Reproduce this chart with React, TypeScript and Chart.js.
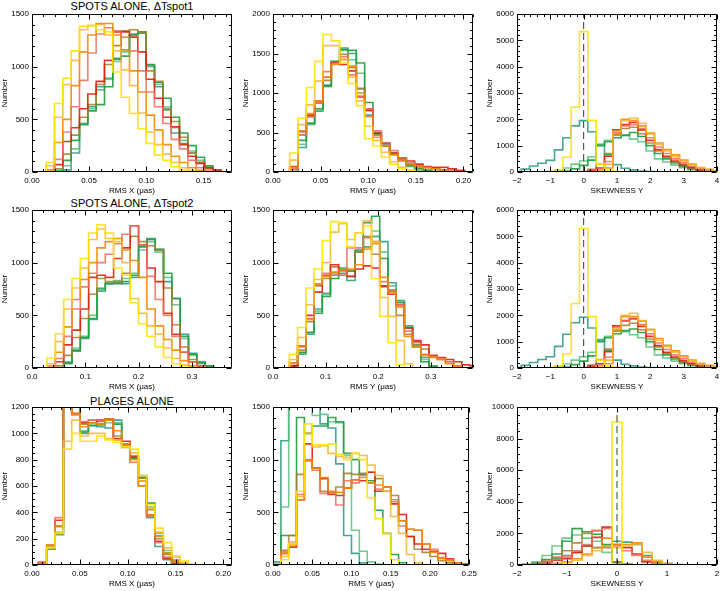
import React, { useEffect, useRef } from "react";
import { Chart, registerables } from "chart.js";
Chart.register(...registerables);

const FONT = '"Liberation Sans", Arial, Helvetica, sans-serif';

// series order: yellow, gold, orange, salmon, red, brown, green, light green, teal
const seriesColors = [
  "rgba(255,226,0,0.9)",
  "rgba(246,180,46,0.85)",
  "rgba(240,136,0,0.9)",
  "rgba(234,108,92,0.85)",
  "rgba(222,32,12,0.9)",
  "rgba(166,124,40,0.85)",
  "rgba(30,156,62,0.9)",
  "rgba(92,190,126,0.85)",
  "rgba(40,152,128,0.85)",
];

// ---- SPOTS ALONE, dTspot1 : RMS X (24 bins) ----
const spot1RmsX: number[][] = [
  [0, 0, 90, 650, 890, 1150, 1385, 1390, 1350, 1330, 950, 710, 555, 410, 270, 160, 110, 50, 20, 0, 0, 0, 0, 0],
  [0, 0, 60, 520, 830, 1060, 1350, 1390, 1400, 1300, 1150, 970, 820, 560, 380, 260, 170, 90, 40, 15, 0, 0, 0, 0],
  [0, 0, 20, 280, 500, 820, 1140, 1300, 1410, 1410, 1300, 1160, 960, 760, 540, 400, 260, 150, 90, 40, 15, 0, 0, 0],
  [0, 0, 0, 120, 380, 620, 870, 1130, 1310, 1370, 1340, 1280, 1150, 960, 760, 620, 460, 310, 220, 110, 40, 10, 0, 0],
  [0, 0, 0, 70, 290, 420, 600, 740, 860, 1060, 1330, 1330, 1280, 1140, 880, 700, 520, 430, 260, 150, 80, 40, 10, 0],
  [0, 0, 0, 30, 170, 350, 520, 640, 830, 1020, 1200, 1340, 1350, 1330, 960, 860, 600, 480, 330, 180, 90, 30, 10, 0],
  [0, 0, 0, 10, 110, 300, 450, 580, 640, 810, 1070, 1100, 1300, 1320, 1020, 850, 700, 520, 370, 250, 140, 60, 20, 0],
  [0, 0, 0, 5, 60, 220, 460, 600, 780, 880, 1050, 1140, 1300, 1320, 1000, 830, 620, 420, 300, 200, 110, 50, 15, 0],
  [0, 0, 0, 0, 20, 180, 460, 620, 810, 890, 1080, 1160, 1310, 1330, 1010, 810, 590, 370, 270, 180, 90, 40, 10, 0],
];

// ---- SPOTS ALONE, dTspot1 : RMS Y (24 bins) ----
const spot1RmsY: number[][] = [
  [0, 0, 240, 680, 1070, 1400, 1740, 1660, 1380, 1120, 840, 420, 330, 190, 100, 40, 20, 0, 0, 0, 0, 0, 0, 0],
  [0, 0, 150, 600, 850, 1150, 1600, 1600, 1430, 1200, 900, 580, 400, 250, 130, 60, 20, 10, 0, 0, 0, 0, 0, 0],
  [0, 0, 60, 520, 740, 900, 1200, 1360, 1420, 1340, 1000, 700, 440, 330, 220, 150, 100, 70, 50, 40, 20, 0, 0, 0],
  [0, 0, 40, 470, 700, 880, 1270, 1380, 1460, 1230, 960, 800, 520, 370, 270, 180, 110, 80, 60, 40, 20, 10, 0, 0],
  [0, 0, 70, 510, 720, 900, 1200, 1390, 1360, 1280, 950, 780, 490, 360, 240, 180, 140, 100, 70, 60, 60, 40, 20, 0],
  [0, 0, 30, 470, 700, 870, 1160, 1380, 1490, 1320, 1060, 780, 470, 330, 220, 160, 110, 80, 60, 50, 30, 10, 0, 0],
  [0, 0, 0, 400, 620, 800, 1090, 1390, 1550, 1540, 1380, 880, 500, 370, 240, 170, 90, 50, 20, 10, 0, 0, 0, 0],
  [0, 0, 0, 350, 600, 780, 1080, 1400, 1540, 1420, 1250, 800, 470, 350, 230, 150, 80, 40, 20, 0, 0, 0, 0, 0],
  [0, 0, 0, 310, 610, 770, 1100, 1400, 1570, 1500, 1050, 720, 490, 330, 230, 140, 70, 30, 10, 0, 0, 0, 0, 0],
];

// ---- SPOTS ALONE, dTspot1 : SKEWNESS Y (25 bins, centres -2..4) ----
const spot1Skew: number[][] = [
  [0, 0, 0, 0, 0, 80, 560, 2460, 5330, 1960, 300, 60, 20, 0, 0, 0, 0, 0, 0, 0, 0, 0, 0, 0, 0],
  [0, 0, 0, 0, 0, 0, 0, 0, 0, 10, 60, 300, 1550, 1950, 2050, 1850, 1500, 1050, 800, 580, 420, 280, 160, 90, 40],
  [0, 0, 0, 0, 0, 0, 0, 0, 0, 0, 20, 150, 1400, 2000, 1950, 1750, 1450, 1100, 850, 650, 450, 300, 170, 100, 50],
  [0, 0, 0, 0, 0, 0, 0, 0, 0, 20, 100, 400, 1500, 1750, 1800, 1650, 1300, 950, 700, 500, 350, 220, 120, 60, 30],
  [0, 0, 0, 0, 0, 0, 0, 0, 10, 50, 150, 600, 1600, 1800, 1880, 1600, 1200, 850, 600, 420, 280, 170, 90, 40, 20],
  [0, 0, 0, 0, 0, 0, 0, 0, 20, 100, 300, 700, 1400, 1650, 1700, 1450, 1100, 800, 560, 380, 240, 140, 80, 40, 20],
  [0, 0, 0, 0, 0, 10, 40, 120, 250, 450, 1000, 1150, 1300, 1400, 1500, 1350, 1000, 700, 500, 340, 210, 120, 70, 40, 20],
  [0, 0, 0, 0, 20, 60, 150, 300, 420, 580, 1030, 1200, 1450, 1380, 1250, 1150, 800, 500, 380, 260, 160, 90, 50, 20, 10],
  [20, 110, 230, 330, 440, 840, 1300, 1750, 1950, 1530, 1050, 660, 280, 140, 80, 40, 20, 10, 0, 0, 0, 0, 0, 0, 0],
];

// ---- SPOTS ALONE, dTspot2 : RMS X (24 bins) ----
const spot2RmsX: number[][] = [
  [0, 0, 95, 325, 650, 850, 1040, 1280, 1360, 1280, 950, 880, 620, 420, 300, 200, 100, 40, 10, 0, 0, 0, 0, 0],
  [0, 0, 40, 250, 560, 760, 950, 1220, 1320, 1230, 1200, 1000, 660, 520, 400, 320, 190, 90, 30, 10, 0, 0, 0, 0],
  [0, 0, 20, 150, 390, 650, 840, 1000, 1140, 1200, 1230, 1120, 1020, 860, 560, 400, 270, 170, 70, 20, 0, 0, 0, 0],
  [0, 0, 0, 90, 300, 560, 770, 900, 1000, 1080, 1180, 1270, 1350, 1170, 870, 650, 500, 300, 150, 60, 20, 0, 0, 0],
  [0, 0, 0, 60, 220, 360, 560, 860, 880, 860, 1040, 1140, 1350, 1170, 950, 820, 520, 320, 150, 60, 20, 0, 0, 0],
  [0, 0, 0, 20, 120, 290, 470, 700, 850, 820, 820, 900, 1250, 1200, 1160, 1120, 760, 410, 200, 80, 20, 0, 0, 0],
  [0, 0, 0, 0, 50, 170, 290, 470, 750, 800, 800, 820, 880, 1150, 1220, 1120, 900, 660, 300, 130, 50, 20, 0, 0],
  [0, 0, 0, 0, 60, 190, 300, 500, 760, 810, 830, 850, 900, 1120, 1200, 1100, 860, 600, 280, 120, 40, 10, 0, 0],
  [0, 0, 0, 0, 40, 160, 280, 460, 730, 800, 810, 800, 860, 1170, 1230, 1130, 820, 660, 320, 140, 60, 20, 0, 0],
];

// ---- SPOTS ALONE, dTspot2 : RMS Y (25 bins) ----
const spot2RmsY: number[][] = [
  [0, 0, 130, 385, 760, 940, 1210, 1390, 1380, 1150, 1280, 1350, 850, 490, 240, 30, 0, 0, 0, 0, 0, 0, 0, 0, 0],
  [0, 0, 80, 290, 600, 840, 1000, 1290, 1370, 1220, 1280, 1400, 1200, 670, 490, 260, 40, 0, 0, 0, 0, 0, 0, 0, 0],
  [0, 0, 50, 200, 460, 800, 870, 910, 930, 940, 980, 1130, 1180, 860, 720, 580, 300, 200, 120, 100, 80, 40, 20, 0, 0],
  [0, 0, 40, 210, 470, 790, 900, 880, 880, 1140, 1140, 1240, 1200, 820, 730, 600, 350, 240, 130, 110, 90, 60, 20, 0, 0],
  [0, 0, 20, 210, 500, 720, 880, 980, 930, 870, 940, 970, 950, 780, 700, 600, 380, 260, 220, 120, 100, 80, 60, 30, 20],
  [0, 0, 10, 170, 440, 780, 850, 960, 880, 930, 1100, 1240, 1080, 770, 720, 500, 320, 220, 180, 110, 80, 60, 20, 0, 0],
  [0, 0, 0, 150, 340, 520, 680, 850, 950, 920, 1120, 1380, 1440, 1040, 740, 620, 380, 200, 60, 10, 0, 0, 0, 0, 0],
  [0, 0, 0, 140, 330, 540, 700, 900, 920, 870, 1110, 1250, 1300, 1100, 780, 630, 390, 220, 80, 15, 0, 0, 0, 0, 0],
  [0, 0, 0, 130, 320, 560, 710, 880, 900, 830, 1100, 1150, 1250, 1200, 810, 640, 400, 250, 100, 20, 0, 0, 0, 0, 0],
];

// ---- SPOTS ALONE, dTspot2 : SKEWNESS Y (25 bins, centres -2..4) ----
const spot2Skew: number[][] = [
  [0, 0, 0, 0, 0, 80, 540, 2450, 5300, 1950, 300, 60, 20, 0, 0, 0, 0, 0, 0, 0, 0, 0, 0, 0, 0],
  [0, 0, 0, 0, 0, 0, 0, 0, 0, 10, 60, 300, 1500, 2000, 2080, 1800, 1480, 1050, 820, 600, 420, 280, 160, 90, 40],
  [0, 0, 0, 0, 0, 0, 0, 0, 0, 0, 20, 160, 1400, 1950, 1950, 1780, 1450, 1120, 860, 650, 460, 300, 180, 100, 60],
  [0, 0, 0, 0, 0, 0, 0, 0, 0, 20, 110, 420, 1550, 1780, 1850, 1650, 1300, 950, 700, 500, 350, 220, 120, 60, 30],
  [0, 0, 0, 0, 0, 0, 0, 0, 10, 60, 160, 620, 1600, 1800, 1880, 1580, 1200, 850, 600, 420, 280, 170, 90, 40, 20],
  [0, 0, 0, 0, 0, 0, 0, 0, 20, 110, 320, 720, 1400, 1620, 1700, 1450, 1100, 800, 560, 380, 240, 140, 80, 40, 20],
  [0, 0, 0, 0, 0, 10, 40, 130, 260, 460, 1000, 1150, 1300, 1420, 1480, 1350, 1000, 700, 500, 340, 210, 120, 70, 40, 20],
  [0, 0, 0, 0, 20, 60, 150, 300, 430, 600, 1050, 1200, 1450, 1380, 1260, 1150, 800, 500, 380, 260, 160, 90, 50, 20, 10],
  [20, 100, 210, 320, 430, 820, 1280, 1720, 1930, 1520, 1080, 680, 300, 140, 80, 40, 20, 10, 0, 0, 0, 0, 0, 0, 0],
];

// ---- PLAGES ALONE : RMS X (23 bins) ----
const plageRmsX: number[][] = [
  [0, 130, 240, 880, 1000, 940, 940, 980, 950, 930, 900, 880, 680, 460, 280, 170, 70, 30, 10, 0, 0, 0, 0],
  [0, 140, 250, 940, 1100, 980, 1000, 1000, 960, 950, 890, 850, 640, 430, 250, 130, 60, 20, 0, 0, 0, 0, 0],
  [10, 150, 300, 1400, 1150, 1050, 1080, 1070, 1100, 1020, 920, 800, 600, 380, 220, 90, 30, 10, 0, 0, 0, 0, 0],
  [20, 150, 360, 1500, 1140, 1090, 1100, 1100, 1110, 950, 900, 780, 600, 370, 170, 60, 20, 0, 0, 0, 0, 0, 0],
  [20, 150, 340, 1500, 1150, 1080, 1080, 1100, 1100, 960, 940, 820, 640, 380, 180, 50, 10, 0, 0, 0, 0, 0, 0],
  [10, 140, 290, 1450, 1150, 1070, 1100, 1090, 1110, 980, 920, 830, 660, 420, 200, 80, 20, 0, 0, 0, 0, 0, 0],
  [0, 130, 240, 1350, 1250, 1010, 1060, 1070, 1110, 1070, 920, 810, 660, 470, 220, 90, 30, 10, 0, 0, 0, 0, 0],
  [0, 130, 240, 1320, 1260, 1020, 1060, 1060, 1080, 1080, 910, 820, 670, 440, 240, 110, 40, 10, 0, 0, 0, 0, 0],
  [0, 120, 230, 1300, 1250, 1000, 1060, 1050, 1040, 1100, 910, 820, 680, 360, 140, 40, 10, 0, 0, 0, 0, 0, 0],
];

// ---- PLAGES ALONE : RMS Y (25 bins) ----
const plageRmsY: number[][] = [
  [0, 50, 200, 700, 1340, 1140, 1140, 1150, 1050, 1000, 1060, 1000, 640, 440, 300, 50, 10, 0, 0, 0, 0, 0, 0, 0, 0],
  [0, 80, 220, 650, 1250, 1120, 1130, 1060, 1030, 1020, 1060, 1040, 950, 850, 700, 460, 300, 100, 20, 0, 0, 0, 0, 0, 0],
  [0, 110, 190, 620, 990, 920, 830, 700, 690, 730, 810, 830, 780, 760, 740, 600, 420, 340, 330, 200, 120, 60, 40, 20, 10],
  [0, 130, 200, 670, 1000, 900, 680, 680, 570, 800, 780, 850, 780, 720, 740, 620, 370, 340, 330, 200, 150, 70, 50, 20, 10],
  [0, 110, 170, 620, 1150, 920, 820, 670, 660, 730, 810, 800, 880, 700, 740, 580, 480, 270, 200, 150, 130, 110, 60, 20, 10],
  [0, 140, 280, 860, 990, 920, 700, 690, 740, 870, 860, 870, 880, 820, 700, 660, 420, 270, 150, 120, 80, 40, 20, 0, 0],
  [0, 280, 280, 1400, 1250, 1320, 1320, 1400, 1360, 1060, 1000, 860, 800, 520, 300, 100, 20, 0, 0, 0, 0, 0, 0, 0, 0],
  [10, 550, 1700, 1750, 1500, 1420, 1430, 1360, 1350, 1040, 330, 130, 30, 10, 0, 0, 0, 0, 0, 0, 0, 0, 0, 0, 0],
  [30, 1180, 1900, 1800, 1600, 1550, 1340, 1300, 960, 280, 110, 20, 0, 0, 0, 0, 0, 0, 0, 0, 0, 0, 0, 0, 0],
];

// ---- PLAGES ALONE : SKEWNESS Y (21 bins, centres -2..2) ----
const plageSkew: number[][] = [
  [0, 0, 0, 0, 0, 0, 0, 0, 0, 0, 9050, 0, 0, 0, 0, 0, 0, 0, 0, 0, 0],
  [0, 0, 0, 20, 80, 150, 300, 600, 900, 1200, 1100, 1200, 1300, 800, 300, 100, 20, 0, 0, 0, 0],
  [0, 0, 0, 30, 100, 200, 400, 700, 1100, 1700, 1300, 1300, 1400, 500, 200, 50, 0, 0, 0, 0, 0],
  [0, 0, 30, 150, 350, 500, 900, 1300, 2200, 2300, 1200, 900, 600, 300, 80, 20, 0, 0, 0, 0, 0],
  [0, 0, 20, 100, 300, 400, 800, 1200, 1750, 2400, 1300, 1100, 700, 200, 50, 0, 0, 0, 0, 0, 0],
  [0, 10, 60, 250, 500, 900, 1400, 2000, 2150, 1100, 200, 50, 0, 0, 0, 0, 0, 0, 0, 0, 0],
  [0, 30, 100, 350, 700, 1500, 2300, 2100, 1950, 1300, 200, 50, 0, 0, 0, 0, 0, 0, 0, 0, 0],
  [0, 50, 200, 600, 1200, 1700, 1900, 1700, 1500, 800, 150, 30, 0, 0, 0, 0, 0, 0, 0, 0, 0],
  [0, 20, 80, 200, 400, 600, 800, 1200, 1100, 1200, 1500, 1450, 1300, 600, 200, 100, 30, 0, 0, 0, 0],
];

const panelTitles = ["SPOTS ALONE, \u0394Tspot1", "SPOTS ALONE, \u0394Tspot2", "PLAGES ALONE"];

type PanelCfg = {
  row: number;
  col: number;
  series: number[][];
  binStart: number;
  binWidth: number;
  xMin: number;
  xMax: number;
  xStep: number;
  xMinor: number;
  xDec: number;
  yMax: number;
  yStep: number;
  yMinor: number;
  xTitle: string;
  dashTop?: number;
};

const panels: PanelCfg[] = [
  { row: 0, col: 0, series: spot1RmsX, binStart: -0.0022, binWidth: 0.175 / 24, xMin: 0, xMax: 0.175, xStep: 0.05, xMinor: 0.01, xDec: 2, yMax: 1500, yStep: 500, yMinor: 100, xTitle: "RMS X (\u03bcas)" },
  { row: 0, col: 1, series: spot1RmsY, binStart: 0, binWidth: 0.00875, xMin: 0, xMax: 0.21, xStep: 0.05, xMinor: 0.01, xDec: 2, yMax: 2000, yStep: 500, yMinor: 100, xTitle: "RMS Y (\u03bcas)" },
  { row: 0, col: 2, series: spot1Skew, binStart: -2.125, binWidth: 0.25, xMin: -2, xMax: 4, xStep: 1, xMinor: 0.2, xDec: 0, yMax: 6000, yStep: 1000, yMinor: 200, xTitle: "SKEWNESS Y", dashTop: 6000 },
  { row: 1, col: 0, series: spot2RmsX, binStart: -0.003, binWidth: 0.0156, xMin: 0, xMax: 0.375, xStep: 0.1, xMinor: 0.02, xDec: 1, yMax: 1500, yStep: 500, yMinor: 100, xTitle: "RMS X (\u03bcas)" },
  { row: 1, col: 1, series: spot2RmsY, binStart: 0, binWidth: 0.0156, xMin: 0, xMax: 0.38, xStep: 0.1, xMinor: 0.02, xDec: 1, yMax: 1500, yStep: 500, yMinor: 100, xTitle: "RMS Y (\u03bcas)" },
  { row: 1, col: 2, series: spot2Skew, binStart: -2.125, binWidth: 0.25, xMin: -2, xMax: 4, xStep: 1, xMinor: 0.2, xDec: 0, yMax: 6000, yStep: 1000, yMinor: 200, xTitle: "SKEWNESS Y", dashTop: 6000 },
  { row: 2, col: 0, series: plageRmsX, binStart: 0.0067, binWidth: 0.0087, xMin: 0, xMax: 0.209, xStep: 0.05, xMinor: 0.01, xDec: 2, yMax: 1200, yStep: 200, yMinor: 50, xTitle: "RMS X (\u03bcas)" },
  { row: 2, col: 1, series: plageRmsY, binStart: 0, binWidth: 0.01, xMin: 0, xMax: 0.25, xStep: 0.05, xMinor: 0.01, xDec: 2, yMax: 1500, yStep: 500, yMinor: 100, xTitle: "RMS Y (\u03bcas)" },
  { row: 2, col: 2, series: plageSkew, binStart: -2.1, binWidth: 0.2, xMin: -2, xMax: 2, xStep: 1, xMinor: 0.2, xDec: 0, yMax: 10000, yStep: 2000, yMinor: 500, xTitle: "SKEWNESS Y", dashTop: 9500 },
];

const colLeft = [0, 241, 485];
const rowTop = [0, 196, 393];
const rowHeight = [200, 200, 198];
const CANVAS_W = 240;
const Y_AXIS_W = 32;
const X_AXIS_H = 26;
const PAD_TOP = 14;
const PLOT_H = 158;
const PAD_RIGHT = 8;

function fmtNum(v: number, dec: number): string {
  const s = dec > 0 ? v.toFixed(dec) : String(Math.round(v));
  return s.startsWith("-") ? "\u2212" + s.slice(1) : s;
}

function makeFramePlugin(p: PanelCfg) {
  return {
    id: "idlFrame",
    afterDraw(chart: any) {
      const { ctx, chartArea: a } = chart;
      const xs = chart.scales.x;
      const ys = chart.scales.y;
      const L = Math.round(a.left) + 0.5;
      const R = Math.round(a.right) - 0.5;
      const T = Math.round(a.top) + 0.5;
      const B = Math.round(a.bottom) - 0.5;
      ctx.save();
      ctx.strokeStyle = "#000";
      ctx.lineWidth = 1;
      ctx.beginPath();
      ctx.rect(L, T, R - L, B - T);
      const k0 = Math.ceil(p.xMin / p.xMinor - 1e-6);
      for (let k = k0; k * p.xMinor <= p.xMax + 1e-9; k++) {
        const v = k * p.xMinor;
        const r = v / p.xStep;
        const major = Math.abs(r - Math.round(r)) < 1e-6;
        const len = major ? 5 : 2.5;
        const px = Math.round(xs.getPixelForValue(v)) + 0.5;
        ctx.moveTo(px, B);
        ctx.lineTo(px, B - len);
        ctx.moveTo(px, T);
        ctx.lineTo(px, T + len);
      }
      for (let k = 0; k * p.yMinor <= p.yMax + 1e-9; k++) {
        const v = k * p.yMinor;
        const r = v / p.yStep;
        const major = Math.abs(r - Math.round(r)) < 1e-6;
        const len = major ? 5 : 2.5;
        const py = Math.round(ys.getPixelForValue(v)) + 0.5;
        ctx.moveTo(L, py);
        ctx.lineTo(L + len, py);
        ctx.moveTo(R, py);
        ctx.lineTo(R - len, py);
      }
      ctx.stroke();
      ctx.restore();
    },
  };
}

function Panel({ p }: { p: PanelCfg }) {
  const ref = useRef<HTMLCanvasElement | null>(null);
  const h = rowHeight[p.row];
  useEffect(() => {
    if (!ref.current) return;
    const datasets: any[] = p.series.map((vals, si) => {
      const n = vals.length;
      // first point at the left edge of bin 0, then one point at each bin's right edge
      const pts = [{ x: p.binStart, y: 0 }];
      vals.forEach((v, i) => pts.push({ x: p.binStart + (i + 1) * p.binWidth, y: v }));
      pts.push({ x: p.binStart + n * p.binWidth, y: 0 });
      return {
        data: pts,
        stepped: "after",
        borderColor: seriesColors[si],
        borderWidth: 1.6,
        pointRadius: 0,
        fill: false,
      };
    });
    if (p.dashTop !== undefined) {
      datasets.unshift({
        data: [
          { x: 0, y: 0 },
          { x: 0, y: p.dashTop },
        ],
        borderColor: "#3a3a3a",
        borderWidth: 1,
        borderDash: [7, 4],
        pointRadius: 0,
        fill: false,
      });
    }
    const tickFont = { size: 8, family: FONT };
    const chart = new Chart(ref.current, {
      type: "line",
      data: { datasets },
      options: {
        responsive: false,
        animation: false,
        events: [],
        layout: {
          padding: { top: PAD_TOP, right: PAD_RIGHT, left: 0, bottom: h - PAD_TOP - PLOT_H - X_AXIS_H },
        },
        plugins: { legend: { display: false }, tooltip: { enabled: false } },
        scales: {
          x: {
            type: "linear",
            min: p.xMin,
            max: p.xMax,
            afterFit: (s: any) => {
              s.height = X_AXIS_H;
            },
            grid: { display: false, drawTicks: false },
            border: { display: false },
            ticks: {
              stepSize: p.xStep,
              includeBounds: false,
              autoSkip: false,
              maxRotation: 0,
              padding: 4,
              color: "#000",
              font: tickFont,
              callback: (v: any) => fmtNum(Number(v), p.xDec),
            },
            title: { display: true, text: p.xTitle, color: "#000", font: tickFont, padding: { top: 0, bottom: 2 } },
          },
          y: {
            type: "linear",
            min: 0,
            max: p.yMax,
            afterFit: (s: any) => {
              s.width = Y_AXIS_W;
            },
            grid: { display: false, drawTicks: false },
            border: { display: false },
            ticks: {
              stepSize: p.yStep,
              autoSkip: false,
              padding: 3,
              color: "#000",
              font: tickFont,
              callback: (v: any) => String(Math.round(Number(v))),
            },
            title: { display: true, text: "Number", color: "#000", font: tickFont, padding: { top: 0, bottom: 0 } },
          },
        },
      },
      plugins: [makeFramePlugin(p)],
    } as any);
    return () => chart.destroy();
  }, [p]);
  return (
    <canvas
      ref={ref}
      width={CANVAS_W}
      height={h}
      style={{ position: "absolute", left: colLeft[p.col], top: rowTop[p.row], width: CANVAS_W, height: h }}
    />
  );
}

const titleCenterY = [6, 203, 401];

export default function App() {
  return (
    <div
      style={{
        position: "fixed",
        left: 0,
        top: 0,
        width: 728,
        height: 591,
        background: "#fff",
        fontFamily: FONT,
        overflow: "hidden",
      }}
    >
      {panelTitles.map((t, i) => (
        <div
          key={t}
          style={{
            position: "absolute",
            left: 32,
            width: 200,
            top: titleCenterY[i] - 7,
            height: 14,
            lineHeight: "14px",
            fontSize: 11,
            textAlign: "center",
            color: "#000",
            whiteSpace: "nowrap",
          }}
        >
          {t}
        </div>
      ))}
      {panels.map((p, i) => (
        <Panel key={i} p={p} />
      ))}
    </div>
  );
}
